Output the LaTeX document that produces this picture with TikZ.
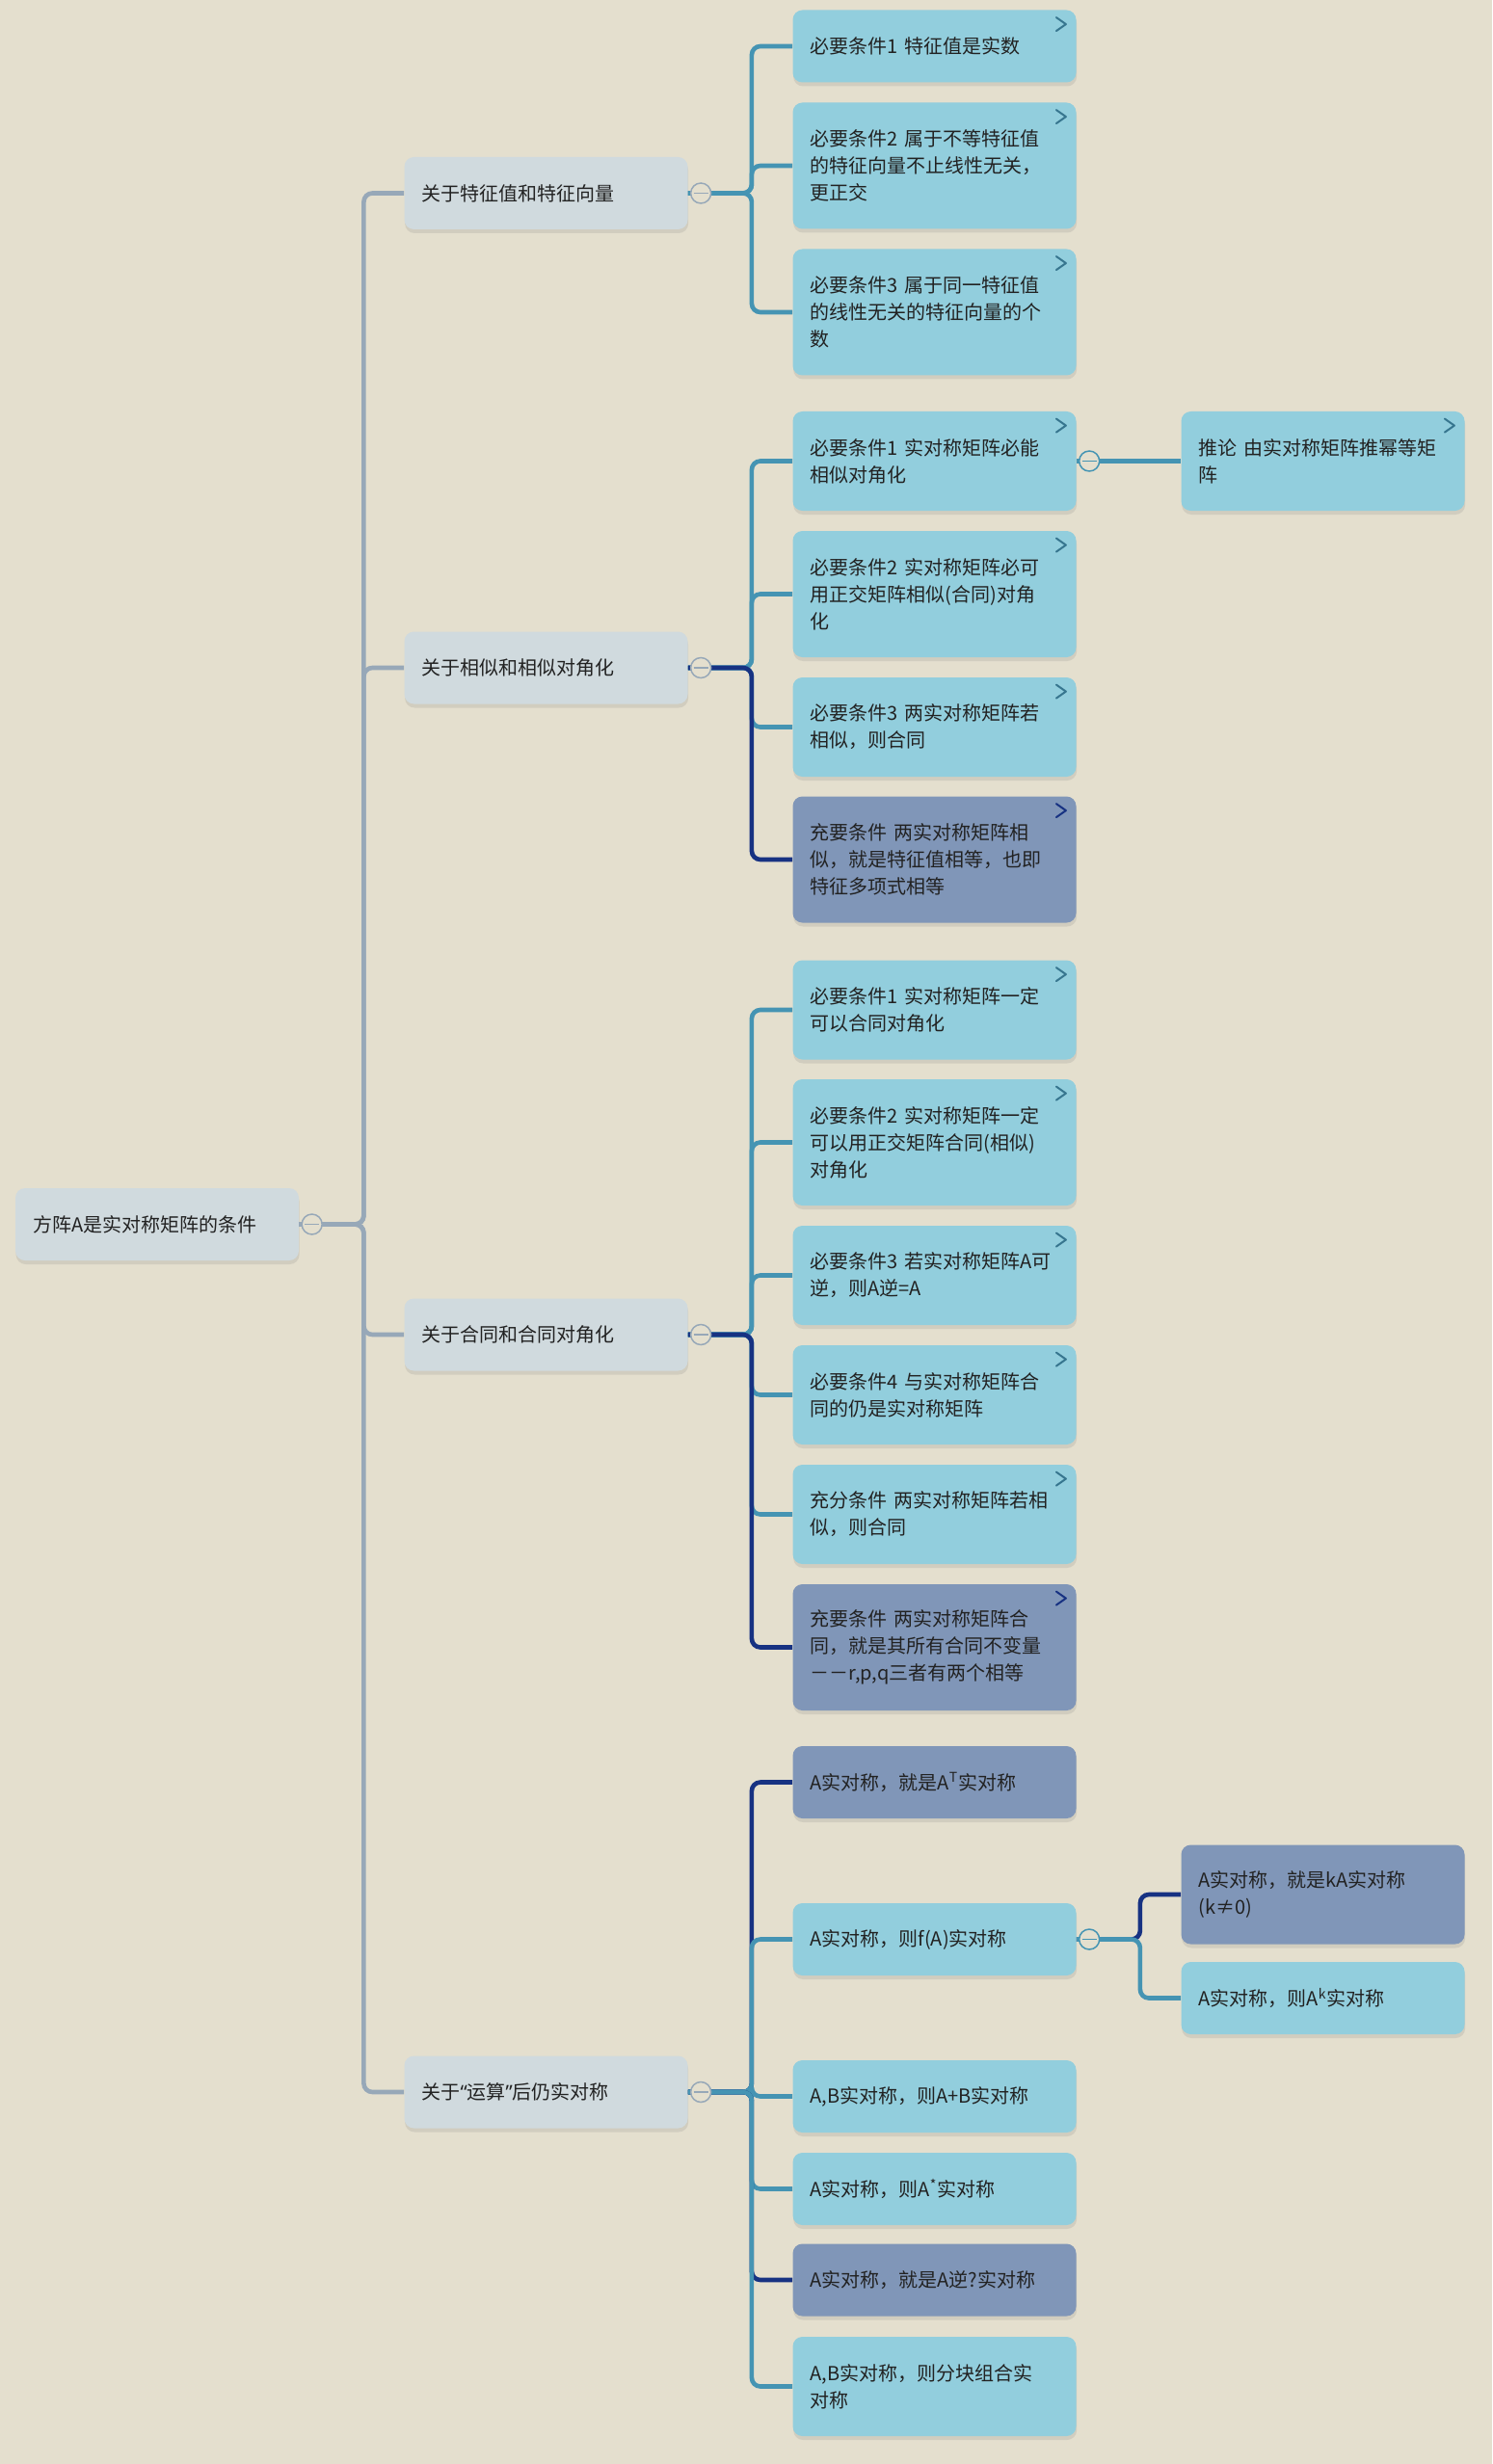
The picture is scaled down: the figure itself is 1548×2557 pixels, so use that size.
\documentclass[tikz,border=0pt]{standalone}
\usepackage{fontspec}
\setmainfont{Noto Sans CJK SC}
\newfontfamily\latinfont{Noto Sans}
\usetikzlibrary{positioning,shadows}

\definecolor{bg}{HTML}{E4DFCE}
\definecolor{greyfill}{HTML}{D0DADE}
\definecolor{lightfill}{HTML}{92CEDD}
\definecolor{darkfill}{HTML}{8096B8}
\definecolor{greylink}{HTML}{97A8B8}
\definecolor{teallink}{HTML}{4594B3}
\definecolor{navylink}{HTML}{173282}
\definecolor{ink}{HTML}{222222}

\begin{document}
\begin{tikzpicture}[x=0.5pt, y=-0.5pt,
    box/.style={rounded corners=5pt, align=left, text width=129pt, inner xsep=9pt, inner ysep=0pt,
      minimum height=37.5pt, text=ink, font=\fontsize{10}{14}\selectfont,
      drop shadow={opacity=0.18, shadow xshift=0.3pt, shadow yshift=-2pt}},
    topic/.style={box, fill=greyfill},
    sub/.style={box, fill=lightfill},
    key/.style={box, fill=darkfill},
    lines2/.style={minimum height=51.5pt},
    lines3/.style={minimum height=65.5pt},
    greyline/.style={draw=greylink, line width=2.3pt, rounded corners=4.5pt},
    tealline/.style={draw=teallink, line width=2.3pt, rounded corners=4.5pt},
    navyline/.style={draw=navylink, line width=2.3pt, rounded corners=4.5pt},
    fold/.style={circle, draw=#1, fill=bg, line width=0.75pt, minimum size=10.5pt, inner sep=0pt,
      path picture={\draw[#1, line width=0.75pt] ([xshift=1.5pt]path picture bounding box.west) -- ([xshift=-1.5pt]path picture bounding box.east);}},
    chev/.style={line width=1pt, line cap=round, line join=round}
  ]
  \useasboundingbox (0,0) rectangle (1548,2557);
  \fill[bg] (0,0) rectangle (1548,2557);

  % Nodes
  \node[topic] (root) at (163,1270.5) {方阵A是实对称矩阵的条件};

  \node[topic] (g1) at (566.5,200.5) {关于特征值和特征向量};
  \node[topic] (g2) at (566.5,693) {关于相似和相似对角化};
  \node[topic] (g3) at (566.5,1385) {关于合同和合同对角化};
  \node[topic] (g4) at (566.5,2171) {关于{\latinfont “}运算{\latinfont ”}后仍实对称};

  % eigenvalues
  \node[sub] (a1) at (969.5,48) {必要条件1 特征值是实数};
  \node[sub, lines3] (a2) at (969.5,172) {必要条件2 属于不等特征值\\的特征向量不止线性无关，\\更正交};
  \node[sub, lines3] (a3) at (969.5,324) {必要条件3 属于同一特征值\\的线性无关的特征向量的个\\数};

  % similarity
  \node[sub, lines2] (b1) at (969.5,478.5) {必要条件1 实对称矩阵必能\\相似对角化};
  \node[sub, lines3] (b2) at (969.5,616.5) {必要条件2 实对称矩阵必可\\用正交矩阵相似(合同)对角\\化};
  \node[sub, lines2] (b3) at (969.5,754.5) {必要条件3 两实对称矩阵若\\相似，则合同};
  \node[key, lines3] (b4) at (969.5,892) {充要条件 两实对称矩阵相\\似，就是特征值相等，也即\\特征多项式相等};
  \node[sub, lines2] (e1) at (1372.5,478.5) {推论 由实对称矩阵推幂等矩\\阵};

  % congruence
  \node[sub, lines2] (c1) at (969.5,1048) {必要条件1 实对称矩阵一定\\可以合同对角化};
  \node[sub, lines3] (c2) at (969.5,1185.5) {必要条件2 实对称矩阵一定\\可以用正交矩阵合同(相似)\\对角化};
  \node[sub, lines2] (c3) at (969.5,1323.5) {必要条件3 若实对称矩阵A可\\逆，则A逆=A};
  \node[sub, lines2] (c4) at (969.5,1447.5) {必要条件4 与实对称矩阵合\\同的仍是实对称矩阵};
  \node[sub, lines2] (c5) at (969.5,1571.5) {充分条件 两实对称矩阵若相\\似，则合同};
  \node[key, lines3] (c6) at (969.5,1709.5) {充要条件 两实对称矩阵合\\同，就是其所有合同不变量\\－－r,p,q三者有两个相等};

  % operations
  \node[key] (d1) at (969.5,1849.5) {A实对称，就是A\textsuperscript{T}实对称};
  \node[sub] (d2) at (969.5,2012.5) {A实对称，则f(A)实对称};
  \node[sub] (d3) at (969.5,2175.5) {A,B实对称，则A+B实对称};
  \node[sub] (d4) at (969.5,2271.5) {A实对称，则A\textsuperscript{*}实对称};
  \node[key] (d5) at (969.5,2366) {A实对称，就是A逆?实对称};
  \node[sub, lines2] (d6) at (969.5,2476.5) {A,B实对称，则分块组合实\\对称};
  \node[key, lines2] (e2) at (1372.5,1966) {A实对称，就是kA实对称\\(k≠0)};
  \node[sub] (e3) at (1372.5,2073.5) {A实对称，则A\textsuperscript{k}实对称};

  % Edges
  \draw[greyline] (root.east) -- ++(67,0) |- (g1.west);
  \draw[greyline] (root.east) -- ++(67,0) |- (g2.west);
  \draw[greyline] (root.east) -- ++(67,0) |- (g3.west);
  \draw[greyline] (root.east) -- ++(67,0) |- (g4.west);

  \draw[tealline] (g1.east) -- ++(66,0) |- (a1.west);
  \draw[tealline] (g1.east) -- ++(66,0) |- (a2.west);
  \draw[tealline] (g1.east) -- ++(66,0) |- (a3.west);

  \draw[tealline] (g2.east) -- ++(66,0) |- (b1.west);
  \draw[tealline] (g2.east) -- ++(66,0) |- (b2.west);
  \draw[tealline] (g2.east) -- ++(66,0) |- (b3.west);
  \draw[navyline] (g2.east) -- ++(66,0) |- (b4.west);
  \draw[tealline] (b1.east) -- (e1.west);

  \draw[tealline] (g3.east) -- ++(66,0) |- (c1.west);
  \draw[tealline] (g3.east) -- ++(66,0) |- (c2.west);
  \draw[tealline] (g3.east) -- ++(66,0) |- (c3.west);
  \draw[tealline] (g3.east) -- ++(66,0) |- (c4.west);
  \draw[tealline] (g3.east) -- ++(66,0) |- (c5.west);
  \draw[navyline] (g3.east) -- ++(66,0) |- (c6.west);

  \draw[navyline] (g4.east) -- ++(66,0) |- (d1.west);
  \draw[tealline] (g4.east) -- ++(66,0) |- (d2.west);
  \draw[tealline] (g4.east) -- ++(66,0) |- (d3.west);
  \draw[tealline] (g4.east) -- ++(66,0) |- (d4.west);
  \draw[navyline] (g4.east) -- ++(66,0) |- (d5.west);
  \draw[tealline] (g4.east) -- ++(66,0) |- (d6.west);
  \draw[navyline] (d2.east) -- ++(66,0) |- (e2.west);
  \draw[tealline] (d2.east) -- ++(66,0) |- (e3.west);

  % collapse marks
  \node[fold=greylink, right=1pt of root] (rootf) {};
  \node[fold=greylink, right=1pt of g1] (g1f) {};
  \node[fold=greylink, right=1pt of g2] (g2f) {};
  \node[fold=greylink, right=1pt of g3] (g3f) {};
  \node[fold=greylink, right=1pt of g4] (g4f) {};
  \node[fold=teallink, right=1pt of b1] (b1f) {};
  \node[fold=teallink, right=1pt of d2] (d2f) {};

  % note arrows
  \foreach \n in {a1,a2,a3,b1,b2,b3,e1,c1,c2,c3,c4,c5}
    \draw[chev, draw=teallink!80!black] ([shift={(-10.5pt,-4pt)}]\n.north east) -- ++(5pt,-3.5pt) -- ++(-5pt,-3.5pt);
  \foreach \n in {b4,c6}
    \draw[chev, draw=navylink] ([shift={(-10.5pt,-4pt)}]\n.north east) -- ++(5pt,-3.5pt) -- ++(-5pt,-3.5pt);
\end{tikzpicture}
\end{document}
